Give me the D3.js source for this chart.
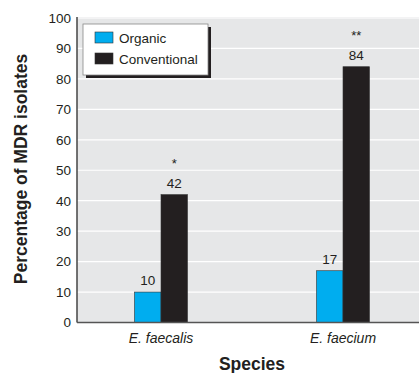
<!DOCTYPE html>
<html>
<head>
<meta charset="utf-8">
<script src="https://d3js.org/d3.v7.min.js"></script>
<style>
  body { margin: 0; background: #fff; }
  text { font-family: "Liberation Sans", Arial, sans-serif; fill: #231f20; }
</style>
</head>
<body>
<div id="chart"></div>
<script>
var species = ["E. faecalis", "E. faecium"];
var series = ["Organic", "Conventional"];
var organic = [10, 17];
var conventional = [42, 84];
var marks = ["*", "**"];
var yTicks = [0, 10, 20, 30, 40, 50, 60, 70, 80, 90, 100];
var colors = ["#00adef", "#231f20"];

var svgWidth = 419, svgHeight = 373;
var margin = { top: 17, right: 0, bottom: 50.5, left: 77 };
var width = svgWidth - margin.left - margin.right;
var height = svgHeight - margin.top - margin.bottom;

var svg = d3.select("#chart").append("svg")
  .attr("width", svgWidth)
  .attr("height", svgHeight);

var chartGroup = svg.append("g")
  .attr("transform", `translate(${margin.left}, ${margin.top})`);

var y = d3.scaleLinear().domain([0, 100]).range([height, 1]);
var x = d3.scalePoint().domain(species).range([84, 266]);
var xSub = d3.scaleBand().domain(series).range([-26.5, 26.5]);

// background + grid
chartGroup.append("rect")
  .attr("x", 0).attr("y", 0)
  .attr("width", width).attr("height", height)
  .attr("fill", "#e6e7e8");

chartGroup.selectAll(".grid")
  .data(yTicks.filter(d => d > 0))
  .enter().append("line")
  .attr("x1", 0).attr("x2", width)
  .attr("y1", d => y(d)).attr("y2", d => y(d))
  .attr("stroke", "#fff").attr("stroke-width", 1.2);

// bars
var rows = species.map((s, i) => ({ s: s, vals: [organic[i], conventional[i]], mark: marks[i] }));

var groups = chartGroup.selectAll(".grp")
  .data(rows).enter().append("g")
  .attr("transform", d => `translate(${x(d.s)},0)`);

groups.selectAll("rect")
  .data(d => d.vals.map((v, j) => ({ key: series[j], v: v, j: j })))
  .enter().append("rect")
  .attr("x", d => xSub(d.key))
  .attr("width", xSub.bandwidth())
  .attr("y", d => y(d.v))
  .attr("height", d => y(0) - y(d.v))
  .attr("fill", d => colors[d.j])
  .attr("stroke", "#333").attr("stroke-width", 0.6);

groups.selectAll(".val")
  .data(d => d.vals.map((v, j) => ({ key: series[j], v: v })))
  .enter().append("text")
  .attr("x", d => xSub(d.key) + xSub.bandwidth() / 2)
  .attr("y", d => y(d.v) - 7)
  .attr("text-anchor", "middle")
  .attr("font-size", "13.5px")
  .text(d => d.v);

groups.append("text")
  .attr("x", xSub("Conventional") + xSub.bandwidth() / 2)
  .attr("y", d => y(d.vals[1]) - 27)
  .attr("text-anchor", "middle")
  .attr("font-size", "13px")
  .attr("fill", "#666")
  .text(d => d.mark);

// axes
var leftAxis = d3.axisLeft(y).tickValues(yTicks).tickSize(0).tickPadding(6);
var yAxis = chartGroup.append("g").call(leftAxis);
yAxis.select(".domain").remove();
yAxis.selectAll("text").attr("font-size", "13.5px").attr("fill", "#231f20")
  .style("font-family", "'Liberation Sans', Arial, sans-serif");

chartGroup.append("line")
  .attr("x1", 0).attr("x2", 0).attr("y1", 0).attr("y2", height)
  .attr("stroke", "#444").attr("stroke-width", 1.5);
chartGroup.append("line")
  .attr("x1", 0).attr("x2", width).attr("y1", height).attr("y2", height)
  .attr("stroke", "#555").attr("stroke-width", 1.5);

// category labels
chartGroup.selectAll(".cat")
  .data(species).enter().append("text")
  .attr("x", d => x(d))
  .attr("y", height + 20)
  .attr("text-anchor", "middle")
  .attr("font-size", "14px")
  .attr("font-style", "italic")
  .text(d => d);

// axis titles
svg.append("text")
  .attr("x", margin.left + 175)
  .attr("y", 370)
  .attr("text-anchor", "middle")
  .attr("font-size", "17.5px")
  .attr("font-weight", "bold")
  .text("Species");

svg.append("text")
  .attr("transform", "translate(27, 169) rotate(-90)")
  .attr("text-anchor", "middle")
  .attr("font-size", "17.5px")
  .attr("font-weight", "bold")
  .text("Percentage of MDR isolates");

// legend
var legend = svg.append("g").attr("transform", "translate(83, 24)");
legend.append("rect")
  .attr("x", 3).attr("y", 3).attr("width", 125).attr("height", 51)
  .attr("fill", "#231f20");
legend.append("rect")
  .attr("x", 0).attr("y", 0).attr("width", 125).attr("height", 51)
  .attr("fill", "#fff").attr("stroke", "#888").attr("stroke-width", 0.8);

var li = legend.selectAll(".li").data(series).enter().append("g")
  .attr("transform", (d, i) => `translate(12, ${8 + i * 21})`);
li.append("rect")
  .attr("width", 18).attr("height", 11)
  .attr("fill", (d, i) => colors[i])
  .attr("stroke", "#333").attr("stroke-width", 0.6);
li.append("text")
  .attr("x", 24).attr("y", 10.5)
  .attr("font-size", "13.5px")
  .text(d => d);
</script>
</body>
</html>
